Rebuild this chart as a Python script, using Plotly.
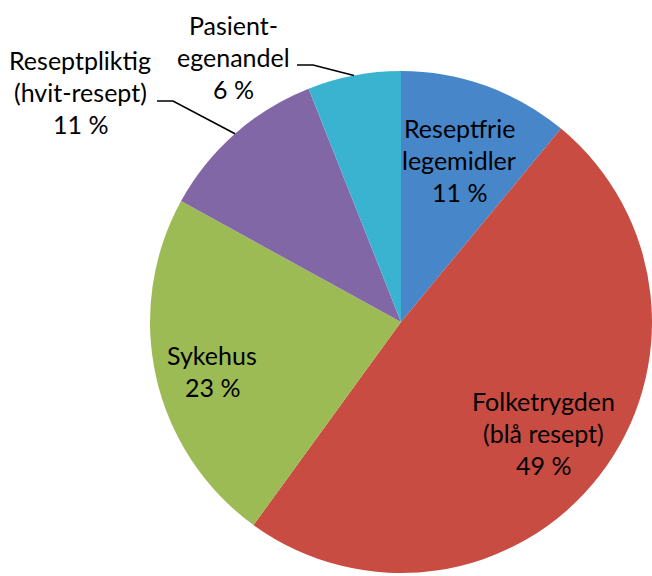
import math
import plotly.graph_objects as go

# Kilde: fordeling av legemiddelomsetning
categories = ["Reseptfrie legemidler", "Folketrygden (blå resept)", "Sykehus",
              "Reseptpliktig (hvit-resept)", "Pasientegenandel"]
label_lines = [["Reseptfrie", "legemidler"], ["Folketrygden", "(blå resept)"], ["Sykehus"],
               ["Reseptpliktig", "(hvit-resept)"], ["Pasient-", "egenandel"]]
values = [11, 49, 23, 11, 6]
colors = ["#4686c9", "#c84c42", "#9dbb55", "#8267a7", "#3ab3d0"]

W, H = 652, 576

# pie position in pixels (right edge runs to the frame, as in the original)
PIE_LEFT, PIE_TOP, PIE_SIZE = 150, 70, 504


def px2paper(x, y):
    return x / W, 1 - y / H


dom_x = [PIE_LEFT / W, 1.0]
dom_y = [max(0.0, 1 - (PIE_TOP + PIE_SIZE) / H), 1 - PIE_TOP / H]
R = min((dom_x[1] - dom_x[0]) * W, (dom_y[1] - dom_y[0]) * H) / 2
cx = (dom_x[0] + dom_x[1]) / 2 * W
cy = (1 - (dom_y[0] + dom_y[1]) / 2) * H

FONT = "Lato"
FS = 25
LINE_H = 32

# inside labels: (radial fraction, extra dy px); outside labels: text centre + elbow start (px)
inside_pos = {0: (0.685, 0), 1: (0.72, 0), 2: (0.77, 7)}
outside = {3: dict(text=(80, 92), elbow=(157, 101, 173)),
           4: dict(text=(233, 57), elbow=(297, 65, 313))}

fig = go.Figure(go.Pie(
    labels=categories, values=values, sort=False, direction="clockwise", rotation=0,
    marker=dict(colors=colors, line=dict(width=0)),
    textinfo="none", hoverinfo="label+percent", showlegend=False,
    domain=dict(x=dom_x, y=dom_y),
))

annotations = []
shapes = []
total = sum(values)
cum = 0
for i, v in enumerate(values):
    mid = (cum + v / 2) / total * 2 * math.pi
    cum += v
    ex, ey = cx + R * math.sin(mid), cy - R * math.cos(mid)
    if i in inside_pos:
        f, dy = inside_pos[i]
        tx, ty = cx + f * R * math.sin(mid), cy - f * R * math.cos(mid) + dy
    else:
        tx, ty = outside[i]["text"]
        x0, y0, x1 = outside[i]["elbow"]
        p0, p1, p2 = px2paper(x0, y0), px2paper(x1, y0), px2paper(ex, ey)
        shapes.append(dict(type="path", xref="paper", yref="paper",
                           path=f"M {p0[0]},{p0[1]} L {p1[0]},{p1[1]} L {p2[0]},{p2[1]}",
                           line=dict(color="black", width=1.6)))
    lines = label_lines[i] + [f"{v} %"]
    n = len(lines)
    for j, t in enumerate(lines):
        px_, py_ = px2paper(tx, ty + (j - (n - 1) / 2) * LINE_H)
        annotations.append(dict(x=px_, y=py_, xref="paper", yref="paper", text=t,
                                showarrow=False, xanchor="center", yanchor="middle",
                                font=dict(family=FONT, size=FS, color="black")))

fig.update_layout(
    width=W, height=H,
    margin=dict(l=0, r=0, t=0, b=0),
    paper_bgcolor="white", plot_bgcolor="white",
    annotations=annotations, shapes=shapes,
)

# drop the default page margin so the chart fills the window exactly
fig.write_html("out.html", config={"displayModeBar": False},
               post_script="document.body.style.margin='0';")
